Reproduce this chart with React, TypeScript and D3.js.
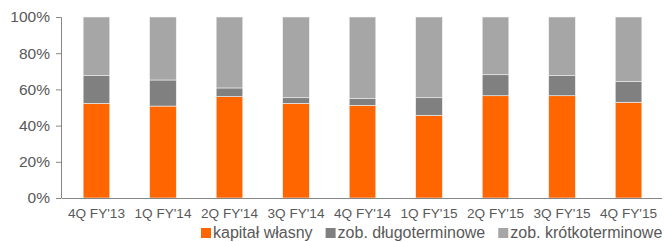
import React, { useEffect, useRef } from 'react';
import * as d3 from 'd3';

// quarters on the x axis
const quarters = ["4Q FY'13", "1Q FY'14", "2Q FY'14", "3Q FY'14", "4Q FY'14", "1Q FY'15", "2Q FY'15", "3Q FY'15", "4Q FY'15"];
// share of total liabilities & equity, in %
const equity = [52.3, 50.8, 56.0, 52.3, 51.2, 45.7, 56.5, 56.5, 52.9];
const longTerm = [15.3, 14.4, 4.8, 3.1, 3.7, 9.7, 11.6, 11.1, 11.4];
const shortTerm = equity.map((d, i) => 100 - d - longTerm[i]);
const seriesNames = ['kapitał własny', 'zob. długoterminowe', 'zob. krótkoterminowe'];
const yTicks = [0, 20, 40, 60, 80, 100];

const colors = ['#ff6600', '#808080', '#a6a6a6'];
const textColor = '#595959';
const font = '"Liberation Sans", Arial, sans-serif';

export default function App() {
  const ref = useRef<SVGSVGElement>(null);

  useEffect(() => {
    const width = 664;
    const height = 242;
    const margin = { top: 17, right: 2, bottom: 44, left: 61 };

    const svg = d3.select(ref.current);
    svg.selectAll('*').remove();

    const chartWidth = width - margin.left - margin.right;
    const chartHeight = height - margin.top - margin.bottom;

    const chart = svg.append('g')
      .attr('transform', `translate(${margin.left},${margin.top})`);

    const xScale = d3.scaleBand()
      .domain(quarters)
      .range([2.2, chartWidth - 0.2])
      .paddingInner(0.6)
      .paddingOuter(0.3);
    const yScale = d3.scaleLinear()
      .domain([0, 100])
      .range([chartHeight, 0]);

    const rows = quarters.map((q, i) => ({ q, a: equity[i], b: longTerm[i], c: shortTerm[i] }));
    const stack = d3.stack<any>().keys(['a', 'b', 'c'])(rows);

    chart.selectAll('.layer')
      .data(stack)
      .enter()
      .append('g')
      .attr('fill', (d, i) => colors[i])
      .selectAll('rect')
      .data(d => d)
      .enter()
      .append('rect')
      .attr('x', d => xScale(d.data.q))
      .attr('y', d => yScale(d[1]))
      .attr('width', xScale.bandwidth())
      .attr('height', d => yScale(d[0]) - yScale(d[1]))
      .attr('stroke', '#f2f2f2')
      .attr('stroke-width', 0.6);

    // y axis
    const yAxis = d3.axisLeft(yScale)
      .tickValues(yTicks)
      .tickSize(5)
      .tickPadding(6)
      .tickFormat(d => `${d}%`);
    const yg = chart.append('g').call(yAxis);
    yg.select('.domain').attr('stroke', '#868686').attr('d', `M-5,0.5H0.5V${chartHeight}`);
    yg.selectAll('.tick line').attr('stroke', '#868686');
    yg.selectAll('text')
      .attr('fill', textColor)
      .style('font-family', font)
      .style('font-size', '15.5px');

    // x axis
    const xAxis = d3.axisBottom(xScale).tickSize(0).tickPadding(10);
    const xg = chart.append('g')
      .attr('transform', `translate(0,${chartHeight})`)
      .call(xAxis);
    xg.select('.domain').attr('stroke', '#868686').attr('d', `M0.5,0.5H${chartWidth}`);
    xg.selectAll('text')
      .attr('fill', textColor)
      .style('font-family', font)
      .style('font-size', '13.6px');

    // legend
    const legend = svg.append('g').attr('transform', 'translate(201,238)');
    let lx = 0;
    seriesNames.forEach((name, i) => {
      legend.append('rect')
        .attr('x', lx)
        .attr('y', -10)
        .attr('width', 10)
        .attr('height', 10)
        .attr('fill', colors[i]);
      const t = legend.append('text')
        .attr('x', lx + 12)
        .attr('y', 0)
        .attr('fill', textColor)
        .style('font-family', font)
        .style('font-size', '16px')
        .text(name);
      const w = (t.node() as SVGTextElement).getComputedTextLength();
      lx += 12 + w + 13;
    });
  }, []);

  return (
    <svg ref={ref} width={664} height={242} style={{ position: 'absolute', left: 0, top: 0, background: '#fff' }} />
  );
}
